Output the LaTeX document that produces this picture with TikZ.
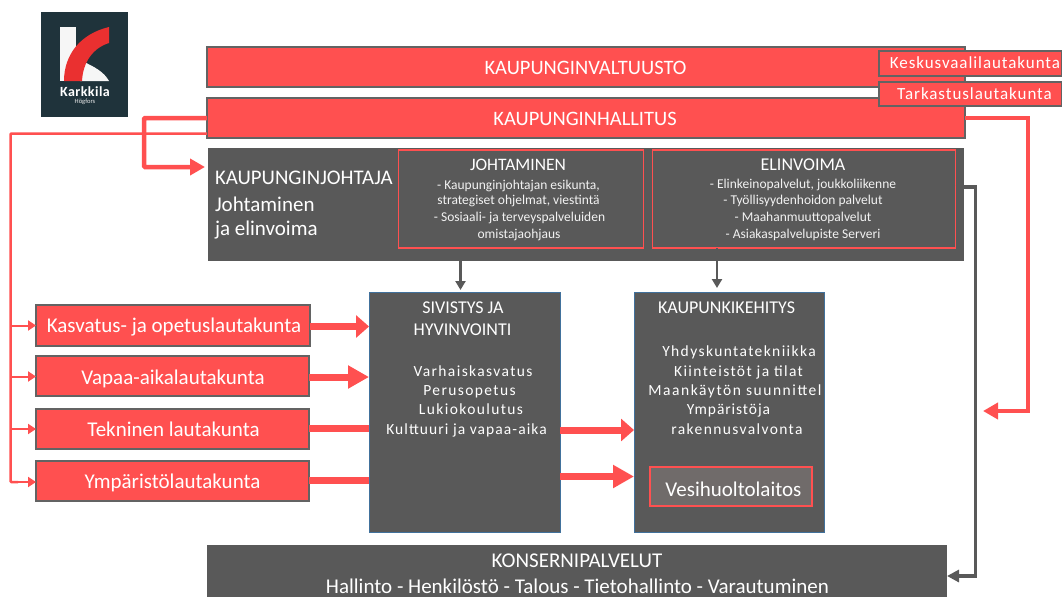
\documentclass[tikz,border=0pt]{standalone}
\usepackage{fontspec}
\setmainfont{Carlito}
\usetikzlibrary{arrows.meta}
\definecolor{kred}{HTML}{FF5050}
\definecolor{kdark}{HTML}{595959}
\definecolor{kblue}{HTML}{41719C}
\definecolor{kline}{HTML}{636363}
\definecolor{klogo}{HTML}{1F333B}
\definecolor{kvesi}{HTML}{706B6A}
\definecolor{klogored}{HTML}{EA3030}
\newcommand{\fs}[1]{\fontsize{#1}{#1}\selectfont}
\newcommand{\wide}[1]{\addfontfeature{LetterSpace=#1}}
\tikzset{
 x=1pt,y=-1pt,
 every node/.style={inner sep=0pt,outer sep=0pt,text=white},
 redbox/.style={draw=kline,line width=1.5pt,fill=kred,anchor=north west,align=center},
 darkbox/.style={draw=none,fill=kdark,anchor=north west},
 bluebox/.style={draw=kblue,line width=1pt,fill=kdark,anchor=north west},
 outlinebox/.style={draw=kred,line width=1.3pt,anchor=north west},
 label/.style={anchor=center,align=center},
 leftlabel/.style={anchor=west,align=left},
 smalltext/.style={label,font=\fs{13.5},text=white!90!gray},
 spaced/.style={label,font=\fs{15.5}\wide{9}},
 bigarrow/.style={draw=kred,line width=7pt,-{Triangle[length=13pt,width=22pt]}},
 bigarrowb/.style={draw=kred,line width=7pt,-{Triangle[length=21pt,width=22pt]}},
 plainbar/.style={draw=kred,line width=7pt},
 feed/.style={draw=kred,line width=2.5pt},
 feedarrow/.style={draw=kred,line width=2pt,-{Triangle[length=8pt,width=10pt]}},
 fat/.style={draw=kred,line width=4.5pt,-{Triangle[length=15pt,width=16pt]}},
 grayarrow/.style={draw=kdark,line width=2.5pt,-{Triangle[length=9pt,width=10pt]}},
}
\begin{document}
\begin{tikzpicture}
\useasboundingbox (0,0) rectangle (1062,597);
% logo
\node[draw=none,fill=klogo,minimum width=87pt,minimum height=105pt,anchor=north west] (logo) at (41,12) {};
\fill[white!93!gray] (60,27) -- (76,27) -- (76,81) -- (60,81) -- cycle;
\fill[white!93!gray] (82,61) .. controls (95,67) and (104,72) .. (109,81) -- (80,81) -- cycle;
\fill[klogored] (64,81) .. controls (64,55) and (80,34) .. (109,27) -- (109,43) .. controls (93,48) and (83,62) .. (82,81) -- cycle;
\node[font=\bfseries\fs{14}\wide{3},label] (logot) at (85,92) {Karkkila};
\node[font=\fs{6.5},label,text=white!85!gray] (logos) at (85,102) {Högfors};
% top
\node[redbox,minimum width=758pt,minimum height=40pt] (kv) at (207,47) {};
\node[redbox,minimum width=758pt,minimum height=40pt] (kh) at (207,98) {};
\node[redbox,minimum width=183pt,minimum height=25pt] (kes) at (879,51) {};
\node[redbox,minimum width=183pt,minimum height=24pt] (tar) at (879,82) {};
\node[label,font=\fs{20.5}] (kvt) at (585.5,67.5) {KAUPUNGINVALTUUSTO};
\node[label,font=\fs{20.5}] (kht) at (585,118.5) {KAUPUNGINHALLITUS};
\node[label,font=\fs{17}\wide{5.5}] (kest) at (975,62.5) {Keskusvaalilautakunta};
\node[label,font=\fs{17}\wide{5.5}] (tart) at (974.5,93.5) {Tarkastuslautakunta};
% johtaja
\node[darkbox,minimum width=756pt,minimum height=113pt] (kj) at (208,148) {};
\node[leftlabel,font=\fs{20.8}] (kj1) at (215,178) {KAUPUNGINJOHTAJA};
\node[leftlabel,font=\fs{21}] (kj2) at (215,204) {Johtaminen};
\node[leftlabel,font=\fs{21}] (kj3) at (215,230) {ja elinvoima};
\node[outlinebox,minimum width=245pt,minimum height=98pt] (joh) at (398.5,150) {};
\node[outlinebox,minimum width=303pt,minimum height=98pt] (eli) at (652.5,150) {};
\node[label,font=\fs{17.5}] (joht) at (518,165) {JOHTAMINEN};
\node[smalltext] (joh1) at (518.5,185.5) {- Kaupunginjohtajan esikunta,};
\node[smalltext] (joh2) at (518.5,201) {strategiset ohjelmat, viestintä};
\node[smalltext] (joh3) at (519.5,218) {- Sosiaali- ja terveyspalveluiden};
\node[smalltext] (joh4) at (519,235) {omistajaohjaus};
\node[label,font=\fs{18}] (elit) at (803,164.5) {ELINVOIMA};
\node[smalltext] (eli1) at (803,185) {- Elinkeinopalvelut, joukkoliikenne};
\node[smalltext] (eli2) at (803,201) {- Työllisyydenhoidon palvelut};
\node[smalltext] (eli3) at (803,217.5) {- Maahanmuuttopalvelut};
\node[smalltext] (eli4) at (803,234.5) {- Asiakaspalvelupiste Serveri};
% lautakunnat
\node[redbox,minimum width=274pt,minimum height=41pt] (kas) at (36,305) {};
\node[redbox,minimum width=273pt,minimum height=40pt] (vap) at (36,356) {};
\node[redbox,minimum width=273pt,minimum height=40pt] (tek) at (36,409) {};
\node[redbox,minimum width=273pt,minimum height=40pt] (ymp) at (36,461) {};
\node[label,font=\fs{21}] (kast) at (174,327.5) {Kasvatus- ja opetuslautakunta};
\node[label,font=\fs{21}] (vapt) at (173,379) {Vapaa-aikalautakunta};
\node[label,font=\fs{21}] (tekt) at (173.5,429) {Tekninen lautakunta};
\node[label,font=\fs{21}] (ympt) at (172.5,483) {Ympäristölautakunta};
% toimialat
\node[bluebox,minimum width=191pt,minimum height=240pt] (siv) at (369,292) {};
\node[bluebox,minimum width=190pt,minimum height=240pt] (kau) at (634,292) {};
\node[label,font=\fs{18}] (siv1) at (463,308) {SIVISTYS JA};
\node[label,font=\fs{18}] (siv2) at (462.5,330) {HYVINVOINTI};
\node[spaced] (siv3) at (473,371) {Varhaiskasvatus};
\node[spaced] (siv4) at (469.5,391.5) {Perusopetus};
\node[spaced] (siv5) at (471,409) {Lukiokoulutus};
\node[label,font=\fs{15.5}\wide{7}] (siv6) at (466.5,430) {Kulttuuri ja vapaa-aika};
\node[label,font=\fs{18}] (kau1) at (726.5,308) {KAUPUNKIKEHITYS};
\node[spaced] (kau2) at (739,352.5) {Yhdyskuntatekniikka};
\node[spaced] (kau3) at (738.5,372) {Kiinteistöt ja tilat};
\node[label,font=\fs{15.5}\wide{10}] (kau4) at (735,391.5) {Maankäytön suunnittel};
\node[label,font=\fs{15.5}\wide{6}] (kau5) at (728.5,410.5) {Ympäristöja};
\node[spaced] (kau6) at (737,429) {rakennusvalvonta};
\node[draw=kred,line width=2pt,fill=kvesi,minimum width=162pt,minimum height=39pt,anchor=north west] (ves) at (649.5,467) {};
\node[label,font=\fs{21}] (vest) at (733.5,489) {Vesihuoltolaitos};
% konserni
\node[darkbox,minimum width=740pt,minimum height=52pt] (kon) at (207,545) {};
\node[label,font=\fs{21}] (kon1) at (577,561) {KONSERNIPALVELUT};
\node[label,font=\fs{21}] (kon2) at (577.5,586) {Hallinto - Henkilöstö - Talous - Tietohallinto - Varautuminen};
% connectors
\coordinate (a1) at (144,118);
\coordinate (a2) at (144,167);
\draw[fat,rounded corners=1pt,shorten >=3pt] (kh.west |- a1) -- (a1) -- (a2) -- (kj.west |- a2);
\coordinate (b1) at (10.5,133.5);
\coordinate (b2) at (10.5,482);
\draw[feed,rounded corners=1pt] (kh.west |- b1) -- (b1) -- (b2) -- (18,482);
\draw[feedarrow] (b1 |- 0,325.5) -- (kas.west |- 0,325.5);
\draw[feedarrow] (b1 |- 0,376.5) -- (vap.west |- 0,376.5);
\draw[feedarrow] (b1 |- 0,429) -- (tek.west |- 0,429);
\draw[feedarrow] (b1 |- 0,482) -- (ymp.west |- 0,482);
\draw[bigarrow] (kas.east |- 0,326.5) -- (siv.west |- 0,326.5);
\draw[bigarrowb] (vap.east |- 0,377) -- (siv.west |- 0,377);
\draw[plainbar] (tek.east |- 0,428) -- (siv.west |- 0,428);
\draw[plainbar] (ymp.east |- 0,480) -- (siv.west |- 0,480);
\draw[bigarrow] (siv.east |- 0,430) -- (kau.west |- 0,430);
\draw[bigarrowb] (siv.east |- 0,476.5) -- (kau.west |- 0,476.5);
\coordinate (c1) at (1028,118);
\coordinate (c2) at (1028,411);
\coordinate (c3) at (983,411);
\draw[fat] (kh.east |- c1) -- (c1) -- (c2) -- (c3);
\coordinate (d1) at (975.5,187);
\coordinate (d2) at (975.5,576);
\draw[grayarrow,line width=3.5pt,-{Triangle[length=12pt,width=12pt]}] (eli.east |- d1) -- (d1) -- (d2) -- (kon.east |- d2);
\draw[grayarrow,shorten >=2pt] (460.5,261) -- (siv.north -| 460.5,0);
\draw[grayarrow,shorten >=4pt] (717,248) -- (kau.north -| 717,0);
\end{tikzpicture}
\end{document}
